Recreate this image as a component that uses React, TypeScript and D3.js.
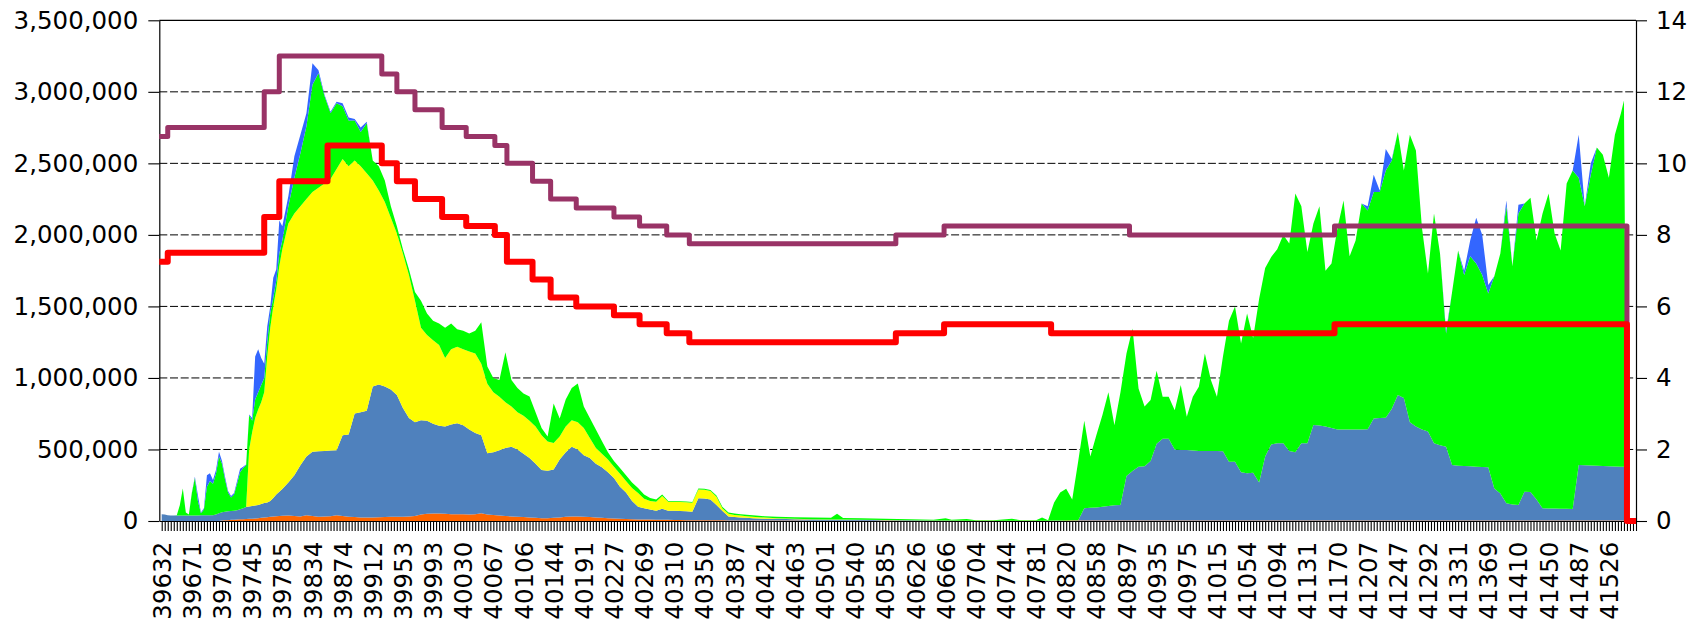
import React, { useEffect, useRef } from 'react';
import * as d3 from 'd3';

// category axis: one tick per category, a label on every 10th one
const categoryCount = 490;
const tickLabels = [
  39632, 39671, 39708, 39745, 39785, 39834, 39874, 39912, 39953, 39993,
  40030, 40067, 40106, 40144, 40191, 40227, 40269, 40310, 40350, 40387,
  40424, 40463, 40501, 40540, 40585, 40626, 40666, 40704, 40744, 40781,
  40820, 40858, 40897, 40935, 40975, 41015, 41054, 41094, 41131, 41170,
  41207, 41247, 41292, 41331, 41369, 41410, 41450, 41487, 41526,
];

// category index of every sample
const sampleIdx = [
  0, 1, 2, 3, 4, 5, 6, 7, 8, 9,
  10, 11, 12, 13, 14, 15, 16, 17, 18, 19,
  20, 21, 22, 23, 24, 25, 26, 27, 28, 29,
  30, 31, 32, 33, 34, 35, 36, 37, 38, 39,
  40,
  42, 44, 46, 48, 50, 52, 54, 56, 58, 60,
  62, 64, 66, 68, 70, 72, 74, 76, 78, 80,
  82, 84, 86, 88, 90, 92, 94, 96, 98, 100,
  102, 104, 106, 108, 110, 112, 114, 116, 118, 120,
  122, 124, 126, 128, 130, 132, 134, 136, 138, 140,
  142, 144, 146, 148, 150, 152, 154, 156, 158, 160,
  162, 164, 166, 168, 170, 172, 174, 176, 178, 180,
  182, 184, 186, 188, 190, 192, 194, 196, 198, 200,
  204, 210, 216, 222, 224, 226, 232, 240, 248, 256,
  260, 262, 267, 270, 276, 282, 285, 290, 292, 294,
  296, 298, 300, 302, 304, 306, 308, 310, 312, 314,
  316, 318, 320, 322, 324, 326, 328, 330, 332, 334,
  336, 338, 340, 342, 344, 346, 348, 350, 352, 354,
  356, 358, 360, 362, 364, 366, 368, 370, 372, 374,
  376, 378, 380, 382, 384, 386, 388, 390, 392, 394,
  396, 398, 400, 402, 404, 406, 408, 410, 412, 414,
  416, 418, 420, 422, 424, 426, 428, 430, 432, 434,
  436, 438, 440, 442, 444, 446, 448, 450, 452, 454,
  456, 458, 460, 462, 464, 466, 468, 470, 472, 474,
  476, 478, 480, 482, 484, 485, 486,
];

// stacked series, in thousands
const orange = [
  0, 0, 0, 0, 0, 0, 0, 0, 0, 0,
  0, 0, 0, 0, 0, 0, 0, 0, 0, 0,
  3, 5, 6, 8, 9, 10, 12, 13, 14, 15,
  16, 18, 20, 22, 24, 26, 30, 32, 34, 35,
  36,
  38, 35, 32, 40, 35, 30, 32, 33, 40, 35,
  30, 28, 25, 25, 25, 27, 28, 30, 30, 30,
  32, 35, 45, 50, 52, 52, 50, 48, 48, 48,
  45, 48, 55, 45, 42, 38, 35, 32, 30, 28,
  25, 22, 20, 20, 22, 25, 30, 32, 32, 30,
  28, 25, 22, 20, 18, 16, 14, 12, 10, 10,
  10, 9, 8, 8, 7, 7, 6, 6, 6, 6,
  5, 5, 5, 4, 4, 4, 4, 3, 3, 3,
  3, 3, 2, 2, 2, 2, 2, 2, 1, 1,
  1, 1, 1, 1, 1, 1, 1, 1, 1, 1,
  2, 2, 3, 3, 4, 4, 4, 4, 4, 4,
  4, 4, 4, 4, 4, 4, 4, 4, 4, 4,
  4, 4, 4, 4, 4, 4, 4, 4, 4, 4,
  4, 4, 4, 4, 4, 4, 4, 4, 4, 4,
  4, 4, 4, 4, 4, 4, 4, 4, 4, 4,
  4, 4, 4, 4, 4, 4, 4, 4, 4, 4,
  4, 4, 4, 4, 4, 4, 4, 4, 4, 4,
  4, 4, 4, 4, 4, 4, 4, 4, 4, 4,
  4, 4, 4, 4, 4, 4, 4, 4, 4, 4,
  4, 4, 4, 4, 4, 4, 0,
];

const steel = [
  48, 45, 40, 38, 38, 38, 38, 38, 38, 38,
  38, 38, 38, 40, 40, 40, 40, 40, 45, 55,
  59, 60, 62, 62, 63, 65, 70, 77, 84, 87,
  89, 90, 92, 96, 101, 104, 110, 128, 151, 170,
  188,
  232, 285, 358, 410, 449, 458, 458, 459, 455, 565,
  575, 724, 735, 745, 915, 928, 912, 890, 850, 760,
  688, 655, 660, 650, 628, 613, 610, 627, 635, 622,
  595, 567, 545, 428, 438, 457, 475, 487, 470, 442,
  415, 378, 336, 332, 338, 405, 450, 487, 468, 430,
  412, 375, 353, 320, 282, 224, 186, 128, 90, 80,
  70, 63, 77, 64, 65, 63, 62, 59, 153, 151,
  145, 107, 65, 28, 24, 21, 18, 17, 15, 13,
  12, 9, 8, 7, 7, 7, 6, 4, 4, 3,
  2, 2, 1, 1, 1, 1, 1, 1, 1, 1,
  1, 1, 1, 2, 2, 85, 88, 91, 96, 101,
  106, 108, 311, 346, 376, 378, 416, 536, 571, 571,
  496, 492, 492, 488, 486, 486, 486, 486, 484, 410,
  410, 336, 329, 333, 266, 446, 531, 539, 539, 486,
  476, 539, 539, 667, 664, 656, 646, 636, 636, 636,
  636, 636, 638, 713, 716, 718, 781, 876, 856, 686,
  656, 636, 621, 539, 526, 515, 387, 382, 380, 378,
  376, 374, 371, 224, 189, 120, 111, 108, 201, 199,
  146, 85, 84, 83, 82, 81, 80, 387, 386, 384,
  382, 380, 378, 377, 376, 376, 0,
];

const yellow = [
  0, 0, 0, 0, 0, 0, 0, 0, 0, 0,
  0, 0, 0, 0, 0, 0, 0, 0, 0, 0,
  0, 0, 0, 0, 0, 0, 0, 0, 0, 398,
  515, 612, 668, 712, 775, 1020, 1210, 1340, 1435, 1575,
  1676,
  1810, 1830, 1810, 1800, 1816, 1842, 1870, 1898, 1965, 1930,
  1875, 1768, 1720, 1660, 1440, 1355, 1290, 1200, 1130, 1080,
  1000, 850, 645, 600, 584, 565, 480, 525, 535, 530,
  545, 555, 500, 487, 420, 373, 320, 281, 260, 265,
  260, 260, 244, 203, 185, 160, 180, 186, 190, 190,
  140, 110, 95, 90, 80, 90, 80, 90, 95, 65,
  60, 63, 90, 63, 63, 63, 63, 63, 62, 61,
  60, 58, 18, 18, 14, 13, 12, 10, 9, 8,
  5, 4, 3, 2, 2, 1, 1, 1, 0, 0,
  0, 0, 0, 0, 0, 0, 0, 0, 0, 0,
  0, 0, 0, 0, 0, 0, 0, 0, 0, 0,
  0, 0, 0, 0, 0, 0, 0, 0, 0, 0,
  0, 0, 0, 0, 0, 0, 0, 0, 0, 0,
  0, 0, 0, 0, 0, 0, 0, 0, 0, 0,
  0, 0, 0, 0, 0, 0, 0, 0, 0, 0,
  0, 0, 0, 0, 0, 0, 0, 0, 0, 0,
  0, 0, 0, 0, 0, 0, 0, 0, 0, 0,
  0, 0, 0, 0, 0, 0, 0, 0, 0, 0,
  0, 0, 0, 0, 0, 0, 0, 0, 0, 0,
  0, 0, 0, 0, 0, 0, 0,
];

const green = [
  0, 0, 0, 0, 0, 2, 72, 190, 22, 7,
  157, 262, 102, 15, 40, 200, 240, 220, 285, 395,
  338, 225, 132, 95, 113, 185, 258, 280, 292, 240,
  80, 130, 120, 120, 100, 100, 100, 60, 60, 90,
  60,
  120, 250, 370, 510, 750, 800, 610, 460, 460, 370,
  320, 280, 240, 350, 140, 170, 150, 80, 50, 30,
  40, 60, 190, 150, 136, 150, 210, 180, 122, 130,
  125, 160, 290, 120, 100, 117, 350, 185, 170, 157,
  170, 100, 50, 35, 277, 127, 190, 225, 272, 150,
  140, 130, 90, 50, 40, 40, 40, 40, 35, 30,
  20, 15, 10, 5, 5, 5, 5, 5, 7, 7,
  7, 8, 10, 10, 10, 10, 10, 10, 10, 9,
  10, 11, 11, 11, 39, 11, 10, 9, 7, 5,
  17, 5, 12, 4, 3, 13, 3, 4, 23, 4,
  127, 197, 221, 145, 414, 611, 358, 505, 640, 795,
  560, 788, 855, 996, 547, 418, 425, 510, 293, 293,
  275, 454, 233, 376, 448, 680, 495, 378, 662, 986,
  1086, 900, 1117, 943, 1284, 1319, 1311, 1357, 1457, 1450,
  1810, 1657, 1337, 1409, 1532, 1090, 1150, 1410, 1600, 1210,
  1320, 1580, 1528, 1583, 1580, 1728, 1735, 1840, 1590, 2010,
  1930, 1410, 1105, 1607, 1340, 791, 1209, 1504, 1336, 1468,
  1420, 1342, 1215, 1482, 1677, 2076, 1665, 2038, 2015, 2057,
  1810, 2061, 2202, 1923, 1804, 2275, 2366, 2009, 1810, 2032,
  2224, 2176, 2018, 2319, 2470, 2560, 0,
];

const blue = [
  0, 0, 0, 0, 0, 0, 0, 0, 0, 0,
  5, 10, 40, 5, 10, 80, 53, 26, 26, 34,
  20, 20, 10, 10, 10, 20, 25, 10, 5, 5,
  20, 300, 300, 190, 100, 110, 50, 140, 80, 230,
  100,
  70, 150, 130, 90, 150, 20, 10, 10, 10, 20,
  20, 10, 30, 10, 0, 0, 0, 0, 0, 0,
  0, 0, 0, 0, 0, 0, 0, 0, 0, 0,
  0, 0, 0, 0, 0, 0, 0, 0, 0, 0,
  0, 0, 0, 0, 0, 0, 0, 0, 0, 0,
  0, 0, 0, 0, 0, 0, 0, 0, 0, 0,
  0, 0, 0, 0, 0, 0, 0, 0, 0, 0,
  0, 0, 0, 0, 0, 0, 0, 0, 0, 0,
  0, 0, 0, 0, 0, 0, 0, 0, 0, 0,
  0, 0, 0, 0, 0, 0, 0, 0, 0, 0,
  0, 0, 0, 0, 0, 0, 0, 0, 0, 0,
  0, 0, 0, 0, 0, 0, 0, 0, 0, 0,
  0, 0, 0, 0, 0, 0, 0, 0, 0, 0,
  0, 0, 0, 0, 0, 0, 0, 0, 0, 0,
  0, 0, 0, 0, 0, 0, 0, 0, 0, 0,
  0, 0, 30, 120, 10, 150, 10, 0, 0, 0,
  0, 0, 0, 0, 0, 20, 0, 0, 30, 110,
  320, 280, 60, 0, 0, 40, 0, 60, 0, 0,
  0, 0, 0, 0, 0, 0, 0, 300, 0, 80,
  0, 0, 0, 0, 0, 0, 0,
];

// step lines on the right axis: category where each level starts, and the level
const purpleAt = [0, 2, 34, 39, 73, 78, 84, 93, 101, 110.5, 114.5, 123, 129, 137.5, 150, 158.5, 167.5, 175, 243.5, 259.5, 321, 389, 486, 489];
const purpleVal = [10.75, 11, 12, 13, 12.5, 12, 11.5, 11, 10.75, 10.5, 10, 9.5, 9, 8.75, 8.5, 8.25, 8, 7.75, 8, 8.25, 8, 8.25, 0, 0];
const redAt = [0, 2, 34, 39, 55, 73, 78, 84, 93, 101, 110.5, 114.5, 123, 129, 137.5, 150, 158.5, 167.5, 175, 243.5, 259.5, 295, 389, 486, 489];
const redVal = [7.25, 7.5, 8.5, 9.5, 10.5, 10, 9.5, 9, 8.5, 8.25, 8, 7.25, 6.75, 6.25, 6, 5.75, 5.5, 5.25, 5, 5.25, 5.5, 5.25, 5.5, 0, 0];

const App = () => {
  const ref = useRef<SVGSVGElement>(null);

  useEffect(() => {
    if (!ref.current) return;
    document.body.style.margin = '0';
    const width = 1694;
    const height = 622;
    const plot = { left: 159.3, right: 1636, top: 20.3, bottom: 521 };
    const font = 'DejaVu Sans';
    const fontSize = 24.5;

    const svg = d3.select(ref.current).attr('width', width).attr('height', height);
    svg.selectAll('*').remove();

    const x = d3.scaleLinear().domain([-0.8, categoryCount - 1]).range([plot.left, plot.right]);
    const y = d3.scaleLinear().domain([0, 3500000]).range([plot.bottom, plot.top]);
    const y2 = d3.scaleLinear().domain([0, 14]).range([plot.bottom, plot.top]);

    // dashed grid lines
    svg.append('g')
      .selectAll('line')
      .data(y.ticks(7).filter(v => v > 0 && v < 3500000))
      .enter().append('line')
      .attr('x1', plot.left).attr('x2', plot.right)
      .attr('y1', d => y(d)).attr('y2', d => y(d))
      .attr('stroke', '#000').attr('stroke-width', 1)
      .attr('stroke-dasharray', '8,2.7');

    // stacked areas
    const keys = ['orange', 'steel', 'yellow', 'green', 'blue'];
    const colors: Record<string, string> = {
      orange: '#ff6600', steel: '#4f81bd', yellow: '#ffff00', green: '#00ff00', blue: '#3366ff',
    };
    const rows = sampleIdx.map((idx, k) => ({
      idx,
      orange: orange[k] * 1000,
      steel: steel[k] * 1000,
      yellow: yellow[k] * 1000,
      green: green[k] * 1000,
      blue: blue[k] * 1000,
    }));
    const series = d3.stack<any>().keys(keys)(rows);
    const area = d3.area<any>()
      .x(d => x(d.data.idx))
      .y0(d => y(d[0]))
      .y1(d => y(d[1]));
    svg.append('g')
      .selectAll('path')
      .data(series)
      .enter().append('path')
      .attr('d', area)
      .attr('fill', d => colors[d.key]);

    // axes
    const styleAxis = (g: any) => {
      g.attr('font-family', font).attr('font-size', fontSize);
      g.selectAll('path').attr('stroke', '#000').attr('stroke-width', 1.2);
      g.selectAll('line').attr('stroke', '#000').attr('stroke-width', 1.1);
      g.selectAll('text').attr('fill', '#000');
    };

    svg.append('line')
      .attr('x1', plot.left).attr('x2', plot.right)
      .attr('y1', plot.top).attr('y2', plot.top)
      .attr('stroke', '#000').attr('stroke-width', 1.2);

    svg.append('g')
      .attr('transform', `translate(${plot.left},0)`)
      .call(d3.axisLeft(y).ticks(7).tickFormat(d3.format(',') as any).tickSize(11).tickPadding(10).tickSizeOuter(0))
      .call(styleAxis);

    svg.append('g')
      .attr('transform', `translate(${plot.right},0)`)
      .call(d3.axisRight(y2).ticks(7).tickSize(11).tickPadding(9).tickSizeOuter(0))
      .call(styleAxis);

    const bottom = svg.append('g')
      .attr('transform', `translate(0,${plot.bottom})`)
      .call(d3.axisBottom(x)
        .tickValues(d3.range(categoryCount))
        .tickFormat((i: any) => (i % 10 === 0 && tickLabels[i / 10] !== undefined ? String(tickLabels[i / 10]) : ''))
        .tickSize(10)
        .tickSizeOuter(0))
      .call(styleAxis);
    bottom.selectAll('text')
      .attr('transform', 'rotate(-90)')
      .attr('text-anchor', 'end')
      .attr('x', -20.7)
      .attr('y', 0)
      .attr('dy', '0.35em');

    // step lines
    const stepLine = d3.line<[number, number]>()
      .x(d => x(d[0]))
      .y(d => y2(d[1]))
      .curve(d3.curveStepAfter);
    const pts = (at: number[], val: number[]) =>
      at.map((a, k) => [k === 0 ? x.domain()[0] : a, val[k]] as [number, number]);

    svg.append('path')
      .attr('d', stepLine(pts(purpleAt, purpleVal)))
      .attr('fill', 'none').attr('stroke', '#993366').attr('stroke-width', 5)
      .attr('stroke-linejoin', 'round');

    svg.append('path')
      .attr('d', stepLine(pts(redAt, redVal)))
      .attr('fill', 'none').attr('stroke', '#ff0000').attr('stroke-width', 6)
      .attr('stroke-linejoin', 'round');
  }, []);

  return <svg ref={ref} style={{ display: 'block' }} />;
};

export default App;
